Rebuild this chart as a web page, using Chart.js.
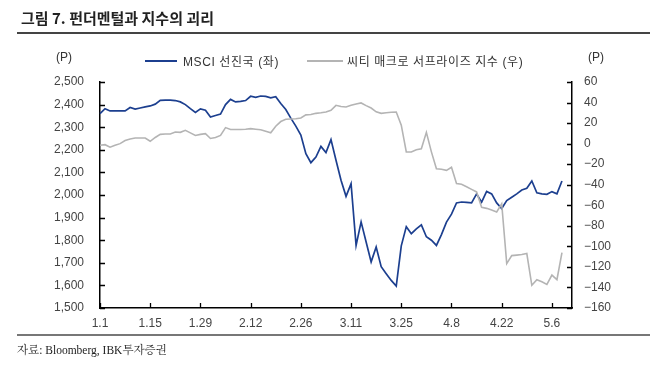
<!DOCTYPE html>
<html>
<head>
<meta charset="utf-8">
<script src="https://cdn.jsdelivr.net/npm/chart.js@4.4.1/dist/chart.umd.min.js"></script>
<style>
  body { margin: 0; background: #fff; }
  #wrap { position: relative; width: 658px; height: 365px; font-family: Arial, "Liberation Sans", "Noto Sans CJK KR", sans-serif; color: #333; }
  #wrap canvas { position: absolute; left: 0; top: 0; }
  .txt { position: absolute; white-space: nowrap; }
  .title { left: 21px; top: 7px; font-size: 15px; font-weight: bold; color: #222; font-family: "Noto Sans CJK KR", sans-serif; }
  .rule { position: absolute; left: 17px; width: 633px; height: 2px; background: #444; }
  .unit { top: 50px; font-size: 12px; }
  .leg { top: 52px; font-size: 12px; letter-spacing: 0.6px; font-family: Arial, "Noto Sans CJK KR", sans-serif; }
  .legline { position: absolute; top: 60px; height: 2px; }
  .src { left: 17px; top: 341px; font-size: 11.5px; font-family: "Liberation Serif", "Noto Serif CJK KR", "Noto Sans CJK KR", serif; color: #222; }
</style>
</head>
<body>
<div id="wrap">
  <canvas id="c" width="658" height="365"></canvas>
  <div class="txt title">그림 7. 펀더멘털과 지수의 괴리</div>
  <div class="rule" style="top:32px"></div>
  <div class="txt unit" style="left:56px">(P)</div>
  <div class="txt unit" style="left:588px">(P)</div>
  <div class="legline" style="left:145px;width:32px;background:#1c3f8f"></div>
  <div class="txt leg" style="left:183px">MSCI 선진국 (좌)</div>
  <div class="legline" style="left:307px;width:36px;background:#b4b4b4"></div>
  <div class="txt leg" style="left:347px">씨티 매크로 서프라이즈 지수 (우)</div>
  <div class="rule" style="top:334px;background:#777"></div>
  <div class="txt src">자료: Bloomberg, IBK투자증권</div>
</div>
<script>
// 영업일 (1.1 ~ 5.12)
const dates = [
  "1.1","1.2","1.3","1.6","1.7","1.8","1.9","1.10","1.13","1.14","1.15","1.16","1.17","1.20","1.21","1.22","1.23","1.24","1.27","1.28","1.29","1.30","1.31",
  "2.3","2.4","2.5","2.6","2.7","2.10","2.11","2.12","2.13","2.14","2.17","2.18","2.19","2.20","2.21","2.24","2.25","2.26","2.27","2.28",
  "3.2","3.3","3.4","3.5","3.6","3.9","3.10","3.11","3.12","3.13","3.16","3.17","3.18","3.19","3.20","3.23","3.24","3.25","3.26","3.27","3.30","3.31",
  "4.1","4.2","4.3","4.6","4.7","4.8","4.9","4.10","4.13","4.14","4.15","4.16","4.17","4.20","4.21","4.22","4.23","4.24","4.27","4.28","4.29","4.30",
  "5.1","5.4","5.5","5.6","5.7","5.8","5.11","5.12"
];
const tickLabels = ["1.1","1.15","1.29","2.12","2.26","3.11","3.25","4.8","4.22","5.6"];

// MSCI 선진국 (좌)
const msci = [
  2360, 2382, 2372, 2372, 2372, 2372, 2387, 2380, 2385, 2390,
  2394, 2402, 2419, 2420, 2420, 2418, 2412, 2400, 2382, 2365,
  2381, 2375, 2345, 2352, 2358, 2400, 2423, 2412, 2414, 2418,
  2437, 2432, 2438, 2436, 2430, 2435, 2405, 2378, 2340, 2305,
  2265, 2183, 2143, 2168, 2215, 2188, 2245, 2154, 2065, 1994,
  2050, 1777, 1881, 1792, 1704, 1770, 1683, 1652, 1622, 1597,
  1775, 1860, 1829, 1850, 1868, 1815, 1800, 1777, 1825, 1880,
  1915, 1965, 1969, 1967, 1965, 2005, 1968, 2016, 2005, 1965,
  1940, 1975, 1990, 2005, 2022, 2030, 2062, 2010, 2005, 2003,
  2015, 2005, 2062
];

// 씨티 매크로 서프라이즈 지수 (우)
const citi = [
  -1.6, -1, -3.5, -1.6, 0, 3, 4.5, 5.5, 5.5, 5.5,
  2.3, 6, 9, 9.4, 9.4, 11.3, 11, 13, 10.5, 8,
  9, 9.7, 5, 6, 8, 15.6, 13.7, 13.7, 13.7, 14,
  14.6, 14, 13.5, 12, 10.5, 17, 21.5, 23.7, 24, 24.3,
  25, 28, 28.3, 29.5, 30, 30.8, 32.4, 37.3, 36.2, 35.7,
  37.3, 38.5, 39.6, 37, 34.7, 31, 29.5, 30, 30.5, 30.8,
  18, -8, -8.1, -6, -5, 11, -8, -24.5, -25, -26,
  -23, -38.9, -39.6, -42, -44.5, -47, -62, -63, -64.5, -66.5,
  -58.5, -116.8, -109, -108.5, -108, -107, -137.9, -132.4, -134.5, -137,
  -128, -132.4, -106
];

const FONT = { family: "Arial, 'Liberation Sans', sans-serif", size: 12 };

// 안쪽 눈금
const innerTicks = {
  id: "innerTicks",
  afterDraw(chart) {
    const ctx = chart.ctx, a = chart.chartArea;
    const y = chart.scales.y, y1 = chart.scales.y1, x = chart.scales.x;
    ctx.save();
    ctx.strokeStyle = "#000";
    ctx.lineWidth = 1.3;
    ctx.beginPath();
    y.ticks.forEach(t => { const p = Math.round(y.getPixelForValue(t.value)) + 0.5; ctx.moveTo(a.left, p); ctx.lineTo(a.left + 5, p); });
    y1.ticks.forEach(t => { const p = Math.round(y1.getPixelForValue(t.value)) + 0.5; ctx.moveTo(a.right, p); ctx.lineTo(a.right - 5, p); });
    tickLabels.forEach(l => { const p = Math.round(x.getPixelForValue(dates.indexOf(l))) + 0.5; ctx.moveTo(p, a.bottom); ctx.lineTo(p, a.bottom - 5); });
    ctx.stroke();
    ctx.restore();
  }
};

new Chart(document.getElementById("c"), {
  type: "line",
  data: {
    labels: dates,
    datasets: [
      { label: "씨티 매크로 서프라이즈 지수 (우)", data: citi, yAxisID: "y1", borderColor: "#b4b4b4", borderWidth: 1.6, pointRadius: 0, tension: 0 },
      { label: "MSCI 선진국 (좌)", data: msci, yAxisID: "y", borderColor: "#1c3f8f", borderWidth: 1.7, pointRadius: 0, tension: 0 }
    ]
  },
  options: {
    responsive: false,
    animation: false,
    layout: { padding: { top: 82, left: 0, right: 0, bottom: 0 } },
    plugins: { legend: { display: false }, tooltip: { enabled: false } },
    scales: {
      x: {
        offset: false,
        grid: { drawOnChartArea: false, drawTicks: false },
        border: { display: true, color: "#000", width: 1.5 },
        ticks: {
          autoSkip: false, maxRotation: 0, padding: 8, color: "#444", font: FONT,
          callback: function (v) { const d = this.getLabelForValue(v); return tickLabels.includes(d) ? d : null; }
        },
        afterFit: s => { s.height = 57; }
      },
      y: {
        position: "left", min: 1500, max: 2500,
        grid: { drawOnChartArea: false, drawTicks: false },
        border: { display: true, color: "#000", width: 1.5 },
        ticks: { stepSize: 100, padding: 16, color: "#444", font: FONT, callback: v => v.toLocaleString("en-US") },
        afterFit: s => { s.width = 100; }
      },
      y1: {
        position: "right", min: -160, max: 60,
        grid: { drawOnChartArea: false, drawTicks: false },
        border: { display: true, color: "#000", width: 1.5 },
        ticks: { stepSize: 20, padding: 12, color: "#444", font: FONT, callback: v => v < 0 ? "\u2212" + Math.abs(v) : String(v) },
        afterFit: s => { s.width = 86; }
      }
    }
  },
  plugins: [innerTicks]
});
</script>
</body>
</html>
